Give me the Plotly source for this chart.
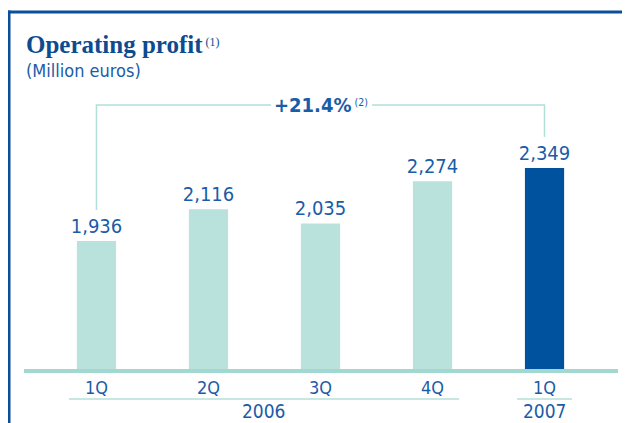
import plotly.graph_objects as go

# ---- data ----
quarters = ["1Q", "2Q", "3Q", "4Q", "1Q"]
years = ["2006", "2006", "2006", "2006", "2007"]
values = [1936, 2116, 2035, 2274, 2349]
growth_label = "+21.4%"
title_text = "Operating profit"
subtitle_text = "(Million euros)"

# ---- styling / layout (screen pixels; the page body adds an 8px offset) ----
OFF = 8
W, H = 630 - OFF, 423 - OFF
PL, PR, PT, PB = 24, 618, 100, 369     # plot area in screen px
L, R, T, B = PL - OFF, W - (PR - OFF), PT - OFF, H - (PB - OFF)
PW, PH = PR - PL, PB - PT
light = "#b9e2dd"
dark = "#00519e"
txt = "#1a5ca8"
frame = "#0b4f9c"
axis_col = "#a3d8d1"
bracket_col = "#b3dfd9"
sans = "DejaVu Sans Condensed, Roboto, sans-serif"
serif = "Liberation Serif, DejaVu Serif, serif"

def px_x(p):  # screen pixel -> paper x
    return (p - PL) / PW

def px_y(p):  # screen pixel -> paper y
    return (PB - p) / PH

idx = list(range(len(values)))
colors = [dark if y == years[-1] else light for y in years]

fig = go.Figure()
fig.add_trace(go.Bar(
    x=idx, y=values, width=0.35, marker=dict(color=colors, line=dict(width=0)),
    texttemplate="%{y:,}", textposition="outside", constraintext="none",
    outsidetextfont=dict(family=sans, size=20, color=txt),
    cliponaxis=False, hoverinfo="skip",
))

y0 = 1212
ytop = y0 + PH * 5.656
fig.update_yaxes(range=[y0, ytop], visible=False)
fig.update_xaxes(
    range=[-0.647, len(values) - 0.5 + 0.156],
    tickvals=idx, ticktext=quarters, ticks="",
    tickfont=dict(family=sans, size=18, color=txt),
    showline=True, linecolor=axis_col, linewidth=3.5,
    showgrid=False, zeroline=False, ticklabelstandoff=0,
)

shapes = []
# frame
shapes.append(dict(type="line", xref="paper", yref="paper", x0=px_x(7.5), x1=px_x(640),
                   y0=px_y(12), y1=px_y(12), line=dict(color=frame, width=3)))
shapes.append(dict(type="line", xref="paper", yref="paper", x0=px_x(9), x1=px_x(9),
                   y0=px_y(10.5), y1=px_y(430), line=dict(color=frame, width=3)))
# year underlines
first06 = years.index("2006"); last06 = len(years) - 1 - years[::-1].index("2006")
i07 = years.index("2007")
shapes.append(dict(type="line", xref="x", yref="paper", x0=first06 - 0.245, x1=last06 + 0.237,
                   y0=px_y(399), y1=px_y(399), line=dict(color=bracket_col, width=1.5)))
shapes.append(dict(type="line", xref="x", yref="paper", x0=i07 - 0.245, x1=i07 + 0.245,
                   y0=px_y(399), y1=px_y(399), line=dict(color=bracket_col, width=1.5)))
# growth bracket
by = 2705
off = 175
shapes.append(dict(type="path", xref="x", yref="y",
                   path=f"M 0 {values[0]+off} L 0 {by} L 1.558 {by}",
                   line=dict(color=bracket_col, width=1.5)))
shapes.append(dict(type="path", xref="x", yref="y",
                   path=f"M 2.46 {by} L {len(values)-1} {by} L {len(values)-1} {values[-1]+off}",
                   line=dict(color=bracket_col, width=1.5)))

annotations = [
    dict(xref="paper", yref="paper", x=px_x(24), y=px_y(44), xanchor="left", yanchor="middle",
         text=f"<b>{title_text}</b><span style='font-size:17px'><sup> (1)</sup></span>", showarrow=False,
         font=dict(family=serif, size=25, color="#0d4b91")),
    dict(xref="paper", yref="paper", x=px_x(24), y=px_y(70), xanchor="left", yanchor="middle",
         text=subtitle_text, showarrow=False,
         font=dict(family=sans, size=18, color=txt)),
    dict(xref="x", yref="y", x=2, y=by, xanchor="center", yanchor="middle",
         text=f"<b>{growth_label}</b><span style='font-size:15px'><sup> (2)</sup></span>", showarrow=False,
         font=dict(family=sans, size=20, color=txt)),
    dict(xref="x", yref="paper", x=(first06 + last06) / 2, y=px_y(411), xanchor="center", yanchor="middle",
         text="2006", showarrow=False, font=dict(family=sans, size=19, color=txt)),
    dict(xref="x", yref="paper", x=i07, y=px_y(411), xanchor="center", yanchor="middle",
         text="2007", showarrow=False, font=dict(family=sans, size=19, color=txt)),
]

fig.update_layout(
    width=W, height=H, margin=dict(l=L, r=R, t=T, b=B, autoexpand=False),
    paper_bgcolor="white", plot_bgcolor="white", showlegend=False,
    shapes=shapes, annotations=annotations, bargap=0.65,
)

fig.write_html("out.html")
